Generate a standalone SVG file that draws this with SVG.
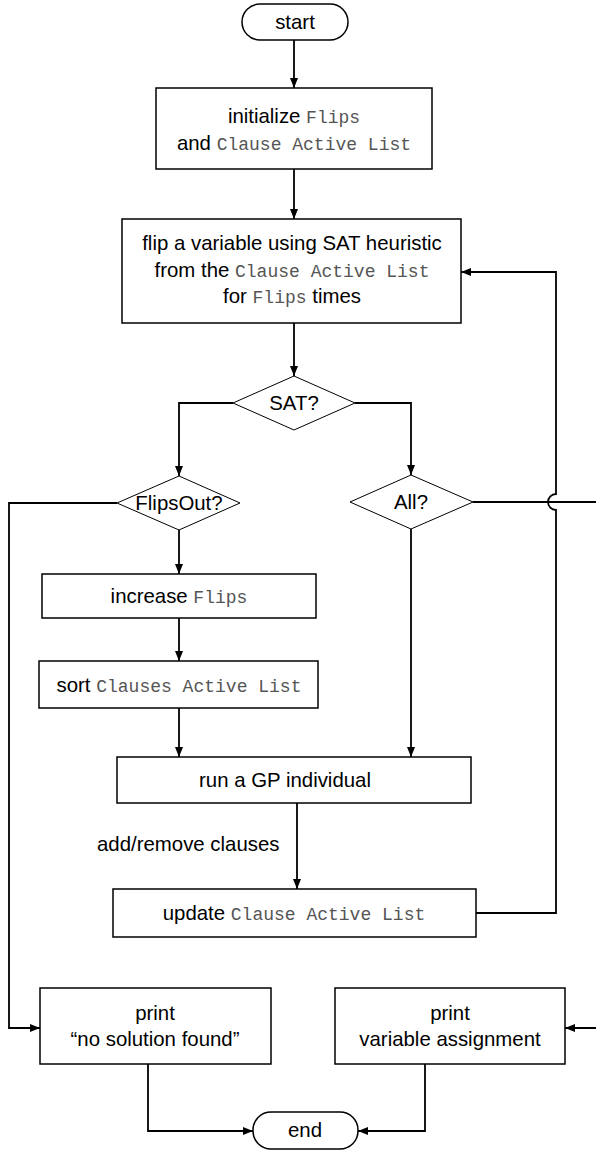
<svg xmlns="http://www.w3.org/2000/svg" width="596" height="1151" viewBox="0 0 596 1151">
<style>
.box{fill:#fff;stroke:#000;stroke-width:1.5}
.dia{fill:#fff;stroke:#000;stroke-width:1}
.t{font-family:"Liberation Sans",Arial,sans-serif;font-size:20.4px;fill:#000;text-anchor:middle}
.m{font-family:"Liberation Mono","Courier New",monospace;font-size:18px;fill:#555}
.c{fill:none;stroke:#000;stroke-width:1.8}
</style>
<defs>
<marker id="ah" viewBox="0 0 10 8" refX="10" refY="4" markerWidth="10" markerHeight="8" markerUnits="userSpaceOnUse" orient="auto">
<path d="M0,0 L10,4 L0,8 Z" fill="#000"/>
</marker>
</defs>
<rect width="596" height="1151" fill="#fff"/>
<g id="connectors">
<path class="c" d="M294,40 V88" marker-end="url(#ah)"/>
<path class="c" d="M294,169 V219" marker-end="url(#ah)"/>
<path class="c" d="M294,323 V376" marker-end="url(#ah)"/>
<path class="c" d="M233,403 H179 V476" marker-end="url(#ah)"/>
<path class="c" d="M355,403 H411 V475" marker-end="url(#ah)"/>
<path class="c" d="M117,503 H9 V1028 H40" marker-end="url(#ah)"/>
<path class="c" d="M179,530 V574" marker-end="url(#ah)"/>
<path class="c" d="M179,618 V661" marker-end="url(#ah)"/>
<path class="c" d="M179,708 V757" marker-end="url(#ah)"/>
<path class="c" d="M411,529 V757" marker-end="url(#ah)"/>
<path class="c" d="M297,803 V889" marker-end="url(#ah)"/>
<path class="c" d="M476,913 H556 V510 A8,8 0 0 1 556,494 V272 H461" marker-end="url(#ah)"/>
<path class="c" d="M473,502 H600 V1028 H565" marker-end="url(#ah)"/>
<path class="c" d="M148,1064 V1131 H253" marker-end="url(#ah)"/>
<path class="c" d="M425,1064 V1131 H358" marker-end="url(#ah)"/>
<text class="t" x="97" y="851" style="text-anchor:start">add/remove clauses</text>
</g>
<g id="start">
<rect class="box" x="242" y="4" width="106" height="36" rx="18"/>
<text class="t" x="295" y="29">start</text>
</g>
<g id="init">
<rect class="box" x="156" y="88" width="276" height="81"/>
<text class="t" x="294" y="123">initialize <tspan class="m">Flips</tspan></text>
<text class="t" x="294" y="150">and <tspan class="m">Clause Active List</tspan></text>
</g>
<g id="flip">
<rect class="box" x="122" y="219" width="339" height="104"/>
<text class="t" x="292" y="250">flip a variable using SAT heuristic</text>
<text class="t" x="292" y="277">from the <tspan class="m">Clause Active List</tspan></text>
<text class="t" x="292" y="303">for <tspan class="m">Flips</tspan> times</text>
</g>
<g id="sat">
<polygon class="dia" points="294,376 355,403 294,430 233,403"/>
<text class="t" x="294" y="410">SAT?</text>
</g>
<g id="flipsout">
<polygon class="dia" points="179,476 240,503 179,530 117,503"/>
<text class="t" x="179" y="510">FlipsOut?</text>
</g>
<g id="all">
<polygon class="dia" points="411,475 473,502 411,529 350,502"/>
<text class="t" x="411" y="509">All?</text>
</g>
<g id="increase">
<rect class="box" x="42" y="574" width="274" height="44"/>
<text class="t" x="179" y="603">increase <tspan class="m">Flips</tspan></text>
</g>
<g id="sort">
<rect class="box" x="39" y="661" width="279" height="47"/>
<text class="t" x="179" y="692">sort <tspan class="m">Clauses Active List</tspan></text>
</g>
<g id="gp">
<rect class="box" x="117" y="757" width="354" height="46"/>
<text class="t" x="285" y="787">run a GP individual</text>
</g>
<g id="update">
<rect class="box" x="113" y="889" width="363" height="48"/>
<text class="t" x="294" y="920">update <tspan class="m">Clause Active List</tspan></text>
</g>
<g id="print1">
<rect class="box" x="40" y="988" width="231" height="76"/>
<text class="t" x="155" y="1020">print</text>
<text class="t" x="155" y="1046">“no solution found”</text>
</g>
<g id="print2">
<rect class="box" x="335" y="988" width="230" height="76"/>
<text class="t" x="450" y="1020">print</text>
<text class="t" x="450" y="1046">variable assignment</text>
</g>
<g id="end">
<rect class="box" x="253" y="1112" width="105" height="37" rx="18"/>
<text class="t" x="305" y="1137">end</text>
</g>
</svg>
